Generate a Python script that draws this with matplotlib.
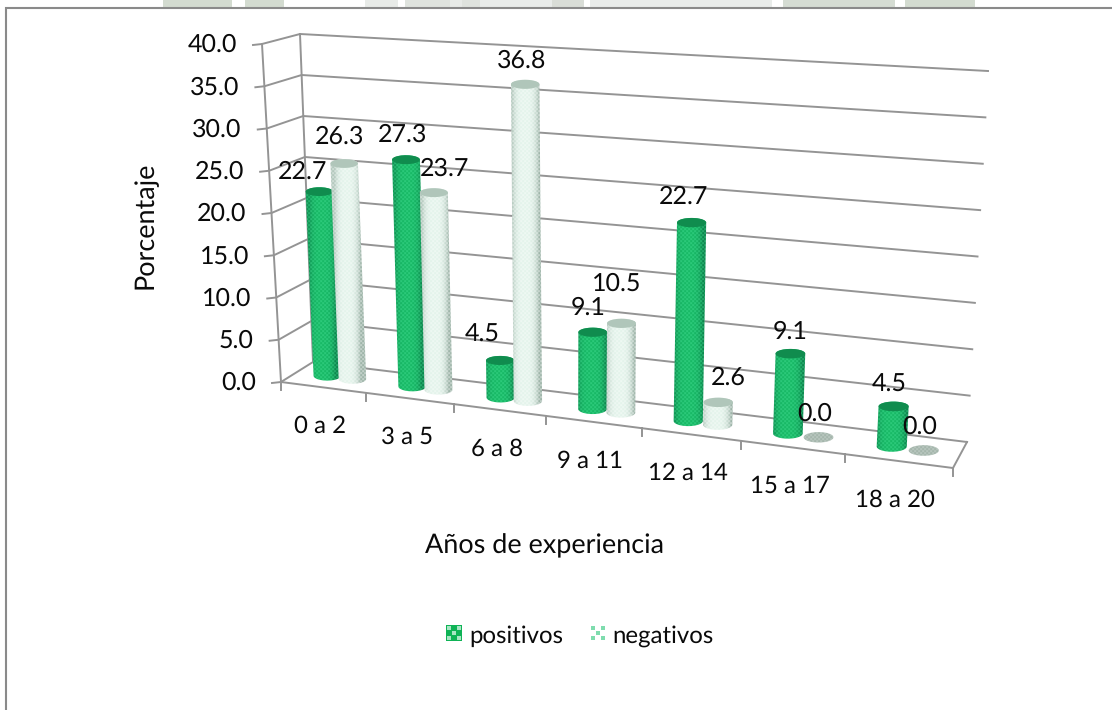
import numpy as np
import matplotlib
matplotlib.use('Agg')
import matplotlib.pyplot as plt
from matplotlib.patches import Polygon, Rectangle

plt.rcParams['font.family'] = ['Lato', 'DejaVu Sans']
plt.rcParams['text.hinting'] = 'none'
plt.rcParams['text.hinting_factor'] = 1

categorias = ['0 a 2', '3 a 5', '6 a 8', '9 a 11', '12 a 14', '15 a 17', '18 a 20']
positivos = [22.7, 27.3, 4.5, 9.1, 22.7, 9.1, 4.5]
negativos = [26.3, 23.7, 36.8, 10.5, 2.6, 0.0, 0.0]
ticks_y = [0, 5, 10, 15, 20, 25, 30, 35, 40]

# label nudges for each bar, in pixels from the top of the cylinder
nudge_pos = [(-17, -20), (-3, -25), (-18, -26), (-5, -25), (-8, -26), (0, -22), (-4, -22)]
nudge_neg = [(-5, -27), (11, -24), (-4, -24), (-5, -40), (10, -25), (-4, -24), (-4, -24)]

# box corners of the 3D chart on the canvas
FL0, FR0, BL0, BR0 = map(np.array, [(281, 382), (953, 468), (313, 362), (967, 442)])
FL4, FR4, BL4, BR4 = map(np.array, [(262, 44), (975, 78), (300, 34), (988, 71)])
VMAX = 40.0
PERSP = 0.869
BAR_SCALE = 0.965
GRID = '#949494'
TXT = '#0a0a0a'
FS_VAL = 18.3
FS_CAT = 17.5
FS_TIT = 19.3


def proj(x, d, v):
    # x in categories, d depth 0..1, v in percent -> canvas pixels
    s = x / len(categorias)
    t = PERSP * s / (1 - s + PERSP * s)
    floor = (1 - d) * ((1 - t) * FL0 + t * FR0) + d * ((1 - t) * BL0 + t * BR0)
    top = (1 - d) * ((1 - t) * FL4 + t * FR4) + d * ((1 - t) * BL4 + t * BR4)
    return floor + (top - floor) * v / VMAX


def altura(v):
    # tall cylinders come a little closer to the viewer
    return v * BAR_SCALE * (1 + 0.0012 * (v - 20))


def rgb01(c):
    return tuple(k / 255.0 for k in c)


def textura(x0, x1, y0, y1, edge, mid, dot, cx=None, half=None):
    # dotted fill with a left to right cylinder shading
    xs = np.arange(int(x0), int(x1) + 1)
    ys = np.arange(int(y0), int(y1) + 1)
    xx, yy = np.meshgrid(xs, ys)
    if cx is None:
        k = np.ones_like(xx, dtype=float)
    else:
        u = np.clip((xx + 0.5 - cx) / half, -1, 1)
        k = np.clip(1 - np.abs(u + 0.1) ** 3.4, 0, 1)
    base = np.array(edge)[None, None] * (1 - k[..., None]) + np.array(mid)[None, None] * k[..., None]
    pat = (0.5 + 0.5 * np.sin(xx * np.pi / 2 + 0.6) * np.sin(yy * np.pi / 2 + 0.6))[..., None]
    rgb = base * (1 - 0.5 * pat) + np.array(dot)[None, None] * 0.5 * pat
    return np.clip(rgb / 255.0, 0, 1), (xs[0], xs[-1] + 1, ys[-1] + 1, ys[0])


def arco(c, a, b, t0, t1):
    th = np.linspace(t0, t1, 40)
    return np.column_stack([c[0] + a * np.cos(th), c[1] + b * np.sin(th)])


def cilindro(ax, x, v, estilo, z):
    c0 = proj(x, 0.5, 0)
    c1 = proj(x, 0.5, altura(v))
    # cylinders widen only slightly towards the right
    a = 13.6 + 1.6 * x / len(categorias)
    b = a * 0.32
    if v > 0:
        # y grows downward on the canvas, so 0..pi is the near side of the ellipse
        body = np.vstack([arco(c0, a, b * 1.1, 0, np.pi), arco(c1, a, b, np.pi, 2 * np.pi)])
        patch = Polygon(body, closed=True, fc='none', ec='none', transform=ax.transData)
        ax.add_patch(patch)
        x0, y0 = body.min(axis=0) - 1
        x1, y1 = body.max(axis=0) + 1
        img, ext = textura(x0, x1, y0, y1, estilo['edge'], estilo['mid'], estilo['dot'], (c0[0] + c1[0]) / 2, a)
        im = ax.imshow(img, extent=ext, origin='upper', aspect='auto', interpolation='bilinear', zorder=z)
        im.set_clip_path(patch)
        cap = Polygon(arco(c1, a, b, 0, 2 * np.pi), closed=True, fc=rgb01(estilo['top']), ec='none', zorder=z + 0.1)
        ax.add_patch(cap)
    else:
        patch = Polygon(arco(c0, a, b * 1.1, 0, 2 * np.pi), closed=True, fc='none', ec='none')
        ax.add_patch(patch)
        x0, y0 = c0 - (a + 1, b + 2)
        x1, y1 = c0 + (a + 1, b + 2)
        img, ext = textura(x0, x1, y0, y1, (160, 178, 168), (160, 178, 168), (215, 225, 220))
        im = ax.imshow(img, extent=ext, origin='upper', aspect='auto', interpolation='bilinear', zorder=z)
        im.set_clip_path(patch)
    return c1


fig = plt.figure(figsize=(11.12, 7.10), dpi=100)
ax = fig.add_axes([0, 0, 1, 1])
ax.set_xlim(0, 1112)
ax.set_ylim(710, 0)
ax.set_autoscale_on(False)
ax.axis('off')

# faded letterhead showing above the frame
for x0, x1, col in [(163, 232, '#d3dbd0'), (245, 284, '#d3dbd0'), (365, 398, '#e8ebe8'),
                    (405, 450, '#dfe3de'), (450, 462, '#e8ebe8'), (462, 480, '#dfe3de'),
                    (480, 552, '#e9ecea'), (552, 584, '#d9ddd7'), (590, 772, '#e9ecea'),
                    (783, 895, '#d5dcd3'), (905, 975, '#d3dbd0')]:
    ax.add_patch(Rectangle((x0, 0), x1 - x0, 8, fc=col, ec='none', zorder=0))
ax.add_patch(Rectangle((0, 8), 1112, 702, fc='white', ec='none', zorder=0.5))
ax.plot([6, 6, 1112], [710, 8, 8], color='#8a8a8a', lw=1.5, zorder=1, solid_joinstyle='miter')

n = len(categorias)
# grid on the back and side walls, with the value ticks
for v in ticks_y:
    l_f = proj(0, 0, v)
    l_b = proj(0, 1, v)
    r_b = proj(n, 1, v)
    ax.plot([l_f[0] - 9, l_f[0], l_b[0], r_b[0]], [l_f[1] + 1, l_f[1], l_b[1], r_b[1]], color=GRID, lw=1.4, zorder=2)
    ax.text(l_f[0] - 25, l_f[1] + 1, '%.1f' % v, ha='right', va='center', fontsize=FS_VAL, color=TXT, zorder=8)

# axis lines and floor
for a, b in [((0, 0, 0), (0, 0, VMAX)), ((0, 0, 0), (n, 0, 0)), ((n, 0, 0), (n, 1, 0)), ((0, 1, 0), (0, 1, VMAX))]:
    pa, pb = proj(*a), proj(*b)
    ax.plot([pa[0], pb[0]], [pa[1], pb[1]], color=GRID, lw=1.4, zorder=2)
for i in range(n + 1):
    p = proj(i, 0, 0)
    ax.plot([p[0], p[0]], [p[1], p[1] + 8], color=GRID, lw=1.4, zorder=2)
for i, cat in enumerate(categorias):
    p = proj(i + 0.5, 0, 0)
    ax.text(p[0] - 3, p[1] + 39, cat, ha='center', va='center', fontsize=FS_CAT, color=TXT, zorder=8)

est_pos = {'edge': (8, 125, 70), 'mid': (20, 182, 98), 'dot': (75, 228, 155), 'top': (16, 140, 78)}
est_neg = {'edge': (150, 175, 162), 'mid': (226, 243, 234), 'dot': (255, 255, 255), 'top': (176, 198, 186)}

for i in range(n):
    tp = cilindro(ax, i + 0.5 - 0.135, positivos[i], est_pos, 3 + i * 0.01)
    tn = cilindro(ax, i + 0.5 + 0.165, negativos[i], est_neg, 4 + i * 0.01)
    ax.text(tp[0] + nudge_pos[i][0], tp[1] + nudge_pos[i][1], '%.1f' % positivos[i], ha='center', va='center',
            fontsize=FS_VAL, color=TXT, zorder=9)
    ax.text(tn[0] + nudge_neg[i][0], tn[1] + nudge_neg[i][1], '%.1f' % negativos[i], ha='center', va='center',
            fontsize=FS_VAL, color=TXT, zorder=9)

ax.text(145, 225, 'Porcentaje', rotation=90, ha='center', va='center', fontsize=FS_TIT, color=TXT)
ax.text(545, 546, 'Años de experiencia', ha='center', va='center', fontsize=FS_TIT, color=TXT)

# legend swatches
ax.add_patch(Rectangle((446, 625), 16, 16, fc='#0fb356', ec='none', zorder=5))
dots_x = np.array([3, 13, 8, 3, 13])
dots_y = np.array([3, 3, 8, 13, 13])
ax.scatter(446 + dots_x, 625 + dots_y, s=5, marker='s', color='#a8e6c4', linewidths=0, zorder=6)
ax.scatter(590 + dots_x, 625 + dots_y, s=5, marker='s', color='#7fdcae', linewidths=0, zorder=6)
ax.text(469, 636, 'positivos', ha='left', va='center', fontsize=FS_CAT, color=TXT)
ax.text(612, 636, 'negativos', ha='left', va='center', fontsize=FS_CAT, color=TXT)

fig.savefig('out.png', dpi=100)
